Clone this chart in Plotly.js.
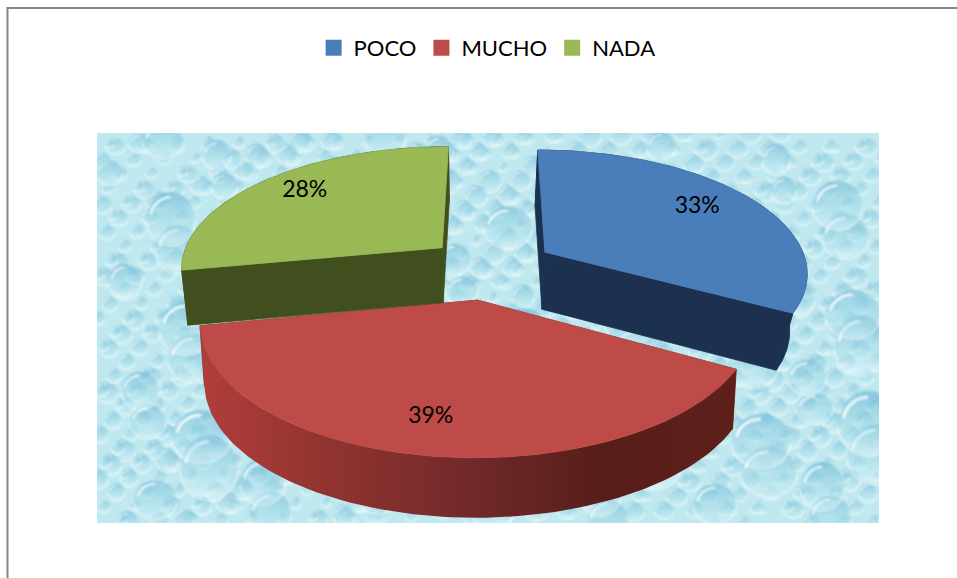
<!DOCTYPE html>
<html><head><meta charset="utf-8">
<script src="https://cdn.plot.ly/plotly-3.0.1.min.js"></script>
<style>html,body{margin:0;padding:0;background:#fff}#c{width:957px;height:578px}</style>
</head><body><div id="c"></div>
<script>
// ---- data ----
const categories = ['POCO', 'MUCHO', 'NADA'];
const percents = [33, 39, 28];
const topColors = ['#4a7ebb', '#be4b48', '#98b954'];
const wallColors = ['#1c3150', '#7a2a26', '#414f1f'];

// ---- projection of the tilted, exploded pie (chart pixels) ----
const CX = 490, CY = 267.7, R = 263, TILT = 0.465, PERSP = 1714;
const offX = [56, -12, -49], offY = [34, -67, 44];
const depth = [57, 60, 55], shrink = [0.945, 0.985, 0.98];
const labelFrac = [0.76, 0.79, 0.79], labelNudge = [-2, 1.5, 1.8];
const FONT = 'Lato, Carlito, sans-serif';

function project(i, X, Y, low) {
  const s = PERSP / (PERSP + Y);
  let sx = CX + X * s, sy = CY - Y * TILT * s;
  if (low) { sx = CX + (sx - CX) * shrink[i]; sy += depth[i]; }
  return [sx, sy];
}
function rim(i, deg, low) {
  const a = deg * Math.PI / 180;
  return project(i, offX[i] + R * Math.sin(a), offY[i] + R * Math.cos(a), low);
}
const total = percents.reduce((a, b) => a + b, 0);
let acc = 0;
const spans = percents.map(p => { const s = [acc, acc + p / total * 360]; acc = s[1]; return s; });

function arc(i, low) {
  const pts = [], [a, b] = spans[i], n = 90;
  for (let k = 0; k <= n; k++) pts.push(rim(i, a + (b - a) * k / n, low));
  return pts;
}
function poly(pts, color, extra, lw) {
  return Object.assign({
    x: pts.map(p => p[0]).concat(pts[0][0]), y: pts.map(p => p[1]).concat(pts[0][1]),
    mode: 'lines', line: { width: lw === undefined ? 0.8 : lw, color: color }, fill: 'toself', fillcolor: color,
    showlegend: false, hoverinfo: 'skip', type: 'scatter'
  }, extra || {});
}
function sliceTraces(i) {
  const top = arc(i, false), low = arc(i, true);
  const apexT = project(i, offX[i], offY[i], false), apexL = project(i, offX[i], offY[i], true);
  const wall = wallColors[i], out = [];
  out.push(poly([apexT, top[0], low[0], apexL], wall));
  out.push(poly([apexT, top[top.length - 1], low[low.length - 1], apexL], wall));
  if (i === 1) {
    out.push(poly(top.concat(low.slice().reverse()), wall, { fillgradient: { type: 'horizontal', colorscale: [
      [0, '#b03e3a'], [0.25, '#8f3330'], [0.5, '#72292a'], [0.75, '#571e1a'], [1, '#5f201b']] } }, 0));
  } else {
    out.push(poly(top.concat(low.slice().reverse()), wall));
  }
  out.push(poly([apexT].concat(top), topColors[i]));
  return out;
}
const traces = [];
[1, 2, 0].forEach(i => sliceTraces(i).forEach(t => traces.push(t)));

// percentage labels
const lab = percents.map((p, i) => {
  const mid = (spans[i][0] + spans[i][1]) / 2 + labelNudge[i], a = mid * Math.PI / 180;
  return project(i, offX[i] + labelFrac[i] * R * Math.sin(a), offY[i] + labelFrac[i] * R * Math.cos(a), false);
});
traces.push({ type: 'scatter', mode: 'text', x: lab.map(p => p[0]), y: lab.map(p => p[1]),
  text: percents.map(p => p + '%'), textposition: 'middle center',
  textfont: { family: FONT, size: 23, color: '#000' }, showlegend: false, hoverinfo: 'skip' });

// legend entries
categories.forEach((c, i) => traces.push({ type: 'scatter', mode: 'markers', name: c, x: [-100], y: [-100],
  marker: { symbol: 'square', size: 16, color: topColors[i] }, hoverinfo: 'skip' }));

// ---- water-drop texture for the plot background ----
function texture(w, h) {
  const cv = document.createElement('canvas'); cv.width = w; cv.height = h;
  const g = cv.getContext('2d');
  g.fillStyle = '#bfe8ef'; g.fillRect(0, 0, w, h);
  const PHI = 0.618034, PSI = 0.754878;
  function drop(x, y, r, squash, alpha) {
    const gr = g.createLinearGradient(0, y - r, 0, y + r);
    gr.addColorStop(0, 'rgba(105,180,212,' + alpha + ')');
    gr.addColorStop(0.6, 'rgba(165,220,233,' + (alpha * 0.7) + ')');
    gr.addColorStop(1, 'rgba(225,247,250,' + alpha + ')');
    g.fillStyle = gr;
    g.beginPath(); g.ellipse(x, y, r, r * squash, 0, 0, 7); g.fill();
    g.strokeStyle = 'rgba(245,253,254,0.95)'; g.lineWidth = Math.max(1.2, r * 0.1);
    g.beginPath(); g.ellipse(x, y, r * 0.85, r * squash * 0.8, 0, 3.3, 4.7); g.stroke();
    g.strokeStyle = 'rgba(240,252,253,0.8)'; g.lineWidth = 1.4;
    g.beginPath(); g.ellipse(x, y, r * 1.05, r * squash * 1.05, 0, 0.1, 3.0); g.stroke();
  }
  g.filter = 'blur(1.1px)';
  for (let i = 1; i <= 1000; i++) {
    drop((i * PHI % 1) * w, (i * PSI % 1) * h, 4 + (i * 0.381 % 1) * 7, 0.8 + (i * 0.137 % 1) * 0.3, 0.55);
  }
  for (let i = 1; i <= 90; i++) {
    drop(((i * 0.7549 + 0.31) % 1) * w, ((i * 0.5698 + 0.17) % 1) * h, 12 + ((i * 0.2871) % 1) * 18, 0.85 + (i * 0.411 % 1) * 0.3, 0.6);
  }
  return cv.toDataURL('image/png');
}

const layout = {
  width: 957, height: 578, margin: { l: 0, r: 0, t: 0, b: 0 },
  paper_bgcolor: '#fff', plot_bgcolor: '#fff',
  xaxis: { range: [0, 957], visible: false, fixedrange: true },
  yaxis: { range: [578, 0], visible: false, fixedrange: true },
  showlegend: true,
  legend: { orientation: 'h', x: 0.509, xanchor: 'center', y: 0.917, yanchor: 'middle',
    font: { family: FONT, size: 22, color: '#000' }, bgcolor: 'rgba(0,0,0,0)', itemsizing: 'trace', traceorder: 'normal', itemclick: false, itemdoubleclick: false },
  images: [{ source: texture(782, 390), xref: 'x', yref: 'y', x: 97, y: 133, sizex: 782, sizey: 390,
    sizing: 'stretch', xanchor: 'left', yanchor: 'top', layer: 'below' }],
  shapes: [
    { type: 'line', xref: 'x', yref: 'y', x0: 7.5, x1: 7.5, y0: 7.5, y1: 578, line: { color: '#868686', width: 2 } },
    { type: 'line', xref: 'x', yref: 'y', x0: 6.5, x1: 957, y0: 8, y1: 8, line: { color: '#868686', width: 2 } }
  ]
};
Plotly.newPlot('c', traces, layout, { displayModeBar: false, staticPlot: true });
</script></body></html>
